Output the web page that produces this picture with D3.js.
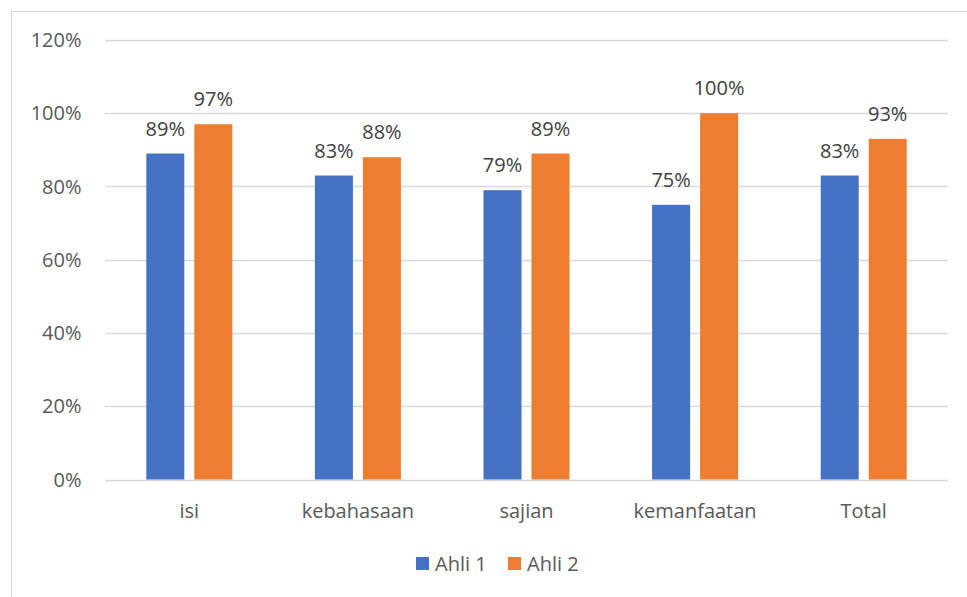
<!DOCTYPE html>
<html>
<head>
<meta charset="utf-8">
<script src="https://cdn.jsdelivr.net/npm/d3@7"></script>
<style>
  html, body { margin: 0; padding: 0; background: #fff; }
  svg { display: block; }
  text { font-family: "Open Sans", "Noto Sans", sans-serif; fill: #595959; }
  text.val { fill: #404040; }
</style>
</head>
<body>
<svg id="chart" width="967" height="597"></svg>
<script>
// Aspect categories and scores from the two experts
const categories = ["isi", "kebahasaan", "sajian", "kemanfaatan", "Total"];
const ahli1 = [0.89, 0.83, 0.79, 0.75, 0.83];
const ahli2 = [0.97, 0.88, 0.89, 1.00, 0.93];
const seriesNames = ["Ahli 1", "Ahli 2"];
const colors = ["#4472C4", "#ED7D31"];
const yTicks = [0, 0.2, 0.4, 0.6, 0.8, 1.0, 1.2];

const svg = d3.select("#chart");
const W = 967, H = 597;
const FS = 20;

// chart frame
svg.append("rect")
  .attr("x", 11.5).attr("y", 11.5)
  .attr("width", W).attr("height", H)
  .attr("fill", "#fff").attr("stroke", "#d9d9d9").attr("stroke-width", 1);

const plot = { left: 105, right: 948, top: 40, bottom: 479.5 };

const x0 = d3.scaleBand().domain(categories).range([plot.left, plot.right]).paddingInner(0).paddingOuter(0);
const y = d3.scaleLinear().domain([0, 1.2]).range([plot.bottom, plot.top]);

const barW = 38, gap = 10;
const x1 = d3.scaleOrdinal().domain(seriesNames).range([-(barW + gap / 2), gap / 2]);

// gridlines
svg.append("g")
  .selectAll("line").data(yTicks).join("line")
  .attr("x1", plot.left).attr("x2", plot.right)
  .attr("y1", d => Math.round(y(d)) + 0.5).attr("y2", d => Math.round(y(d)) + 0.5)
  .attr("stroke", "#d9d9d9").attr("stroke-width", 1.3);

// y axis labels
const fmt = d3.format(".0%");
svg.append("g")
  .selectAll("text").data(yTicks).join("text")
  .attr("x", 81.5).attr("y", d => y(d))
  .attr("dy", "0.35em")
  .attr("text-anchor", "end")
  .attr("font-size", FS)
  .text(d => fmt(d));

// bars
const rows = categories.map((c, i) => ({ c, vals: [ahli1[i], ahli2[i]] }));
const groups = svg.append("g").selectAll("g").data(rows).join("g")
  .attr("transform", d => `translate(${x0(d.c) + x0.bandwidth() / 2},0)`);

groups.selectAll("rect").data(d => d.vals.map((v, j) => ({ v, s: seriesNames[j], j }))).join("rect")
  .attr("x", d => x1(d.s))
  .attr("y", d => y(d.v))
  .attr("width", barW)
  .attr("height", d => plot.bottom - y(d.v))
  .attr("fill", d => colors[d.j]);

// value labels
groups.selectAll("text.val").data(d => d.vals.map((v, j) => ({ v, s: seriesNames[j], j }))).join("text")
  .attr("class", "val")
  .attr("x", d => x1(d.s) + barW / 2)
  .attr("y", d => y(d.v) - 18)
  .attr("text-anchor", "middle")
  .attr("font-size", FS)
  .text(d => fmt(d.v));

// category labels
svg.append("g").selectAll("text").data(categories).join("text")
  .attr("x", d => x0(d) + x0.bandwidth() / 2)
  .attr("y", 511)
  .attr("dy", "0.35em")
  .attr("text-anchor", "middle")
  .attr("font-size", FS)
  .text(d => d);

// legend
const legend = svg.append("g");
const legendX = [416, 508];
seriesNames.forEach((name, i) => {
  legend.append("rect")
    .attr("x", legendX[i]).attr("y", 557)
    .attr("width", 13).attr("height", 13)
    .attr("fill", colors[i]);
  legend.append("text")
    .attr("x", legendX[i] + 19).attr("y", 563.5)
    .attr("dy", "0.35em")
    .attr("font-size", FS)
    .text(name);
});
</script>
</body>
</html>
